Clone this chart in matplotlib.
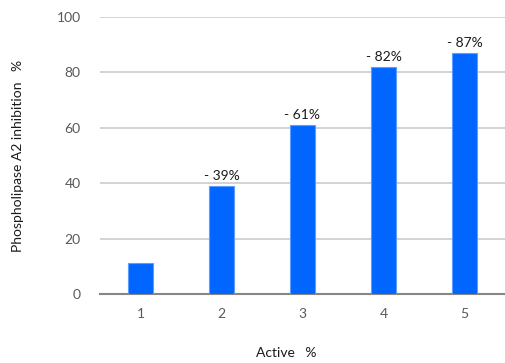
import matplotlib.pyplot as plt
import numpy as np

plt.rcParams['font.family'] = ['Lato', 'DejaVu Sans']

categories = ['1', '2', '3', '4', '5']
inhibition = [11.2, 39, 61, 82, 87]
labels = ['', '- 39%', '- 61%', '- 82%', '- 87%']

fig = plt.figure(figsize=(5.06, 3.63), dpi=100)
axe = fig.add_axes([100 / 506, 1 - 294 / 363, 405 / 506, 277 / 363])

x = np.arange(len(categories))
bars = axe.bar(x, inhibition, width=0.31, color='#0066ff', edgecolor='#5c9dff',
               linewidth=0.8, zorder=3)

for b, txt in zip(bars, labels):
    if txt:
        axe.text(b.get_x() + b.get_width() / 2, b.get_height() + 1.5, txt,
                 ha='center', va='bottom', fontsize=10, color='#1a1a1a')

axe.set_xlim(-0.5, len(categories) - 0.5)
axe.set_ylim(0, 100)
axe.set_yticks(range(0, 101, 20))
axe.set_xticks(x)
axe.set_xticklabels(categories)
axe.yaxis.grid(True, color='#cccccc', linewidth=1.2, zorder=0)
axe.set_axisbelow(True)

for s in ['top', 'right', 'left']:
    axe.spines[s].set_visible(False)
axe.spines['bottom'].set_color('#868686')
axe.spines['bottom'].set_linewidth(1.5)
axe.tick_params(length=0, labelsize=10, labelcolor='#595959')
axe.tick_params(axis='y', pad=14)
axe.tick_params(axis='x', pad=10)

axe.set_xlabel('Active   %', fontsize=10, color='#1a1a1a', labelpad=20)
axe.xaxis.set_label_coords(0.46, -0.19)
axe.set_ylabel('Phospholipase A2 inhibition   %', fontsize=10, color='#1a1a1a',
               labelpad=23)

plt.savefig('out.png', dpi=100)
